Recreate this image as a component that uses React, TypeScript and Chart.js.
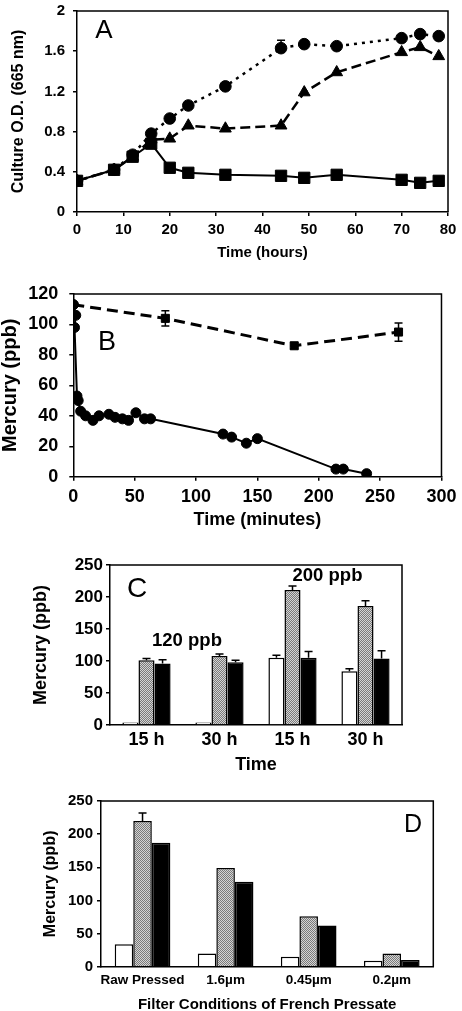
import React, { useEffect, useRef } from 'react';
import { Chart, registerables } from 'chart.js';

Chart.register(...registerables);

const FONT = "'Liberation Sans', Arial, Helvetica, sans-serif";
const BLACK = '#000000';

// ---------- Panel A : culture growth ----------
const hoursA = [0, 8, 12, 16, 20, 24, 32, 44, 49, 56, 70, 74, 78];
const odSquares = [0.31, 0.42, 0.55, 0.68, 0.44, 0.39, 0.37, 0.36, 0.34, 0.37, 0.32, 0.29, 0.31];
const odCircles = [0.31, 0.42, 0.57, 0.78, 0.93, 1.06, 1.25, 1.63, 1.67, 1.65, 1.73, 1.77, 1.75];
const odCirclesErr = [0, 0, 0, 0, 0, 0, 0, 0.08, 0, 0, 0, 0, 0];
const odTriangles = [0.31, 0.42, 0.55, 0.72, 0.73, 0.86, 0.83, 0.86, 1.19, 1.39, 1.59, 1.64, 1.55];

// ---------- Panel B : mercury vs minutes ----------
const minutesCircles = [0, 2, 1, 3, 4, 6, 10, 16, 21, 29, 34, 40, 45, 51, 58, 63, 122, 129, 141, 150, 214, 220, 239];
const hgCircles = [113, 106, 98, 53, 50, 43, 40, 37, 40, 41, 39, 38, 37, 42, 38, 38, 28, 26, 22, 25, 5, 5, 2];
const minutesSquares = [0, 75, 180, 265];
const hgSquares = [113, 104, 86, 95];
const hgSquaresErr = [0, 5, 2, 6];

// ---------- Panel C : bars by time ----------
const cLabels = ['15 h', '30 h', '15 h', '30 h'];
const cWhite = [4, 4, 105, 84];
const cGray = [101, 108, 211, 186];
const cBlack = [96, 98, 105, 104];
const cWhiteErr = [0, 0, 4, 4];
const cGrayErr = [3, 3, 6, 8];
const cBlackErr = [6, 3, 10, 12];

// ---------- Panel D : filter conditions ----------
const dLabels = ['Raw Pressed', '1.6\u00b5m', '0.45\u00b5m', '0.2\u00b5m'];
const dWhite = [34, 20, 15, 9];
const dGray = [220, 149, 76, 20];
const dBlack = [187, 128, 62, 10];
const dGrayErr = [12, 0, 0, 0];

type TextItem = { text: string; x: number; y: number; size: number; bold?: boolean };

const textPlugin = (items: TextItem[], offsetTop: number) => ({
  id: 'texts',
  afterDraw(chart: any) {
    const ctx = chart.ctx;
    ctx.save();
    ctx.fillStyle = BLACK;
    ctx.textAlign = 'center';
    ctx.textBaseline = 'alphabetic';
    items.forEach((t) => {
      ctx.font = `${t.bold ? 'bold ' : ''}${t.size}px ${FONT}`;
      ctx.fillText(t.text, t.x, t.y - offsetTop + 0.358 * t.size);
    });
    ctx.restore();
  },
});

const framePlugin = {
  id: 'frame',
  afterDraw(chart: any) {
    const { left, top, right, bottom } = chart.chartArea;
    const ctx = chart.ctx;
    ctx.save();
    ctx.strokeStyle = BLACK;
    ctx.lineWidth = 1.5;
    ctx.beginPath();
    ctx.moveTo(left, top);
    ctx.lineTo(right, top);
    ctx.lineTo(right, bottom);
    ctx.stroke();
    ctx.restore();
  },
};

type ErrSpec = { ds: number; err: number[]; both?: boolean; cap: number };

const errorPlugin = (specs: ErrSpec[]) => ({
  id: 'errs',
  afterDatasetsDraw(chart: any) {
    const ctx = chart.ctx;
    const ys = chart.scales.y;
    ctx.save();
    ctx.strokeStyle = BLACK;
    ctx.lineWidth = 1.5;
    specs.forEach((s) => {
      const meta = chart.getDatasetMeta(s.ds);
      meta.data.forEach((el: any, i: number) => {
        const e = s.err[i];
        if (!e) return;
        const raw = chart.data.datasets[s.ds].data[i];
        const v = typeof raw === 'number' ? raw : raw.y;
        const x = el.x;
        const yTop = ys.getPixelForValue(v + e);
        const yBot = ys.getPixelForValue(s.both ? v - e : v);
        ctx.beginPath();
        ctx.moveTo(x, yBot);
        ctx.lineTo(x, yTop);
        ctx.moveTo(x - s.cap, yTop);
        ctx.lineTo(x + s.cap, yTop);
        if (s.both) {
          ctx.moveTo(x - s.cap, yBot);
          ctx.lineTo(x + s.cap, yBot);
        }
        ctx.stroke();
      });
    });
    ctx.restore();
  },
});

const bold = (size: number, lineHeight?: number) =>
  lineHeight ? { family: FONT, size, weight: 'bold' as const, lineHeight } : { family: FONT, size, weight: 'bold' as const };

const tickGrid = { display: true, drawOnChartArea: false, drawTicks: true, tickLength: 4, color: BLACK, lineWidth: 1.5 };
const border = { display: true, color: BLACK, width: 1.5 };

function grayPattern(): CanvasPattern | string {
  const c = document.createElement('canvas');
  c.width = 2;
  c.height = 2;
  const g = c.getContext('2d');
  if (!g) return '#a8a8a8';
  g.fillStyle = '#d4d4d4';
  g.fillRect(0, 0, 2, 2);
  g.fillStyle = '#7a7a7a';
  g.fillRect(0, 0, 1, 1);
  g.fillRect(1, 1, 1, 1);
  const ctx = document.createElement('canvas').getContext('2d');
  return (ctx && ctx.createPattern(c, 'repeat')) || '#a8a8a8';
}

const baseOptions = {
  animation: false as const,
  responsive: false,
  events: [] as any[],
  plugins: { legend: { display: false }, tooltip: { enabled: false } },
};

// ---------- configs ----------
const TOP_A = -6;
const TOP_B = 262;
const TOP_C = 535;
const TOP_D = 776;

function configA() {
  const pts = (ys: number[]) => hoursA.map((x, i) => ({ x, y: ys[i] }));
  return {
    type: 'line' as const,
    data: {
      datasets: [
        {
          data: pts(odSquares), borderColor: BLACK, backgroundColor: BLACK, borderWidth: 2,
          pointStyle: 'rect', pointRadius: 8, pointBorderWidth: 1, pointBorderColor: BLACK, pointBackgroundColor: BLACK, tension: 0,
        },
        {
          data: pts(odCircles), borderColor: BLACK, backgroundColor: BLACK, borderWidth: 2.5, borderDash: [3, 5],
          pointStyle: 'circle', pointRadius: 5.8, pointBorderWidth: 1, pointBorderColor: BLACK, pointBackgroundColor: BLACK, tension: 0,
        },
        {
          data: pts(odTriangles), borderColor: BLACK, backgroundColor: BLACK, borderWidth: 2.5, borderDash: [10, 5],
          pointStyle: 'triangle', pointRadius: 6.8, pointBorderWidth: 1, pointBorderColor: BLACK, pointBackgroundColor: BLACK, tension: 0,
        },
      ],
    },
    options: {
      ...baseOptions,
      layout: { padding: { top: 13, left: 11, right: 14, bottom: 0 } },
      scales: {
        x: {
          type: 'linear' as const, min: 0, max: 80,
          ticks: { stepSize: 10, font: bold(15), color: BLACK, padding: 5 },
          grid: tickGrid, border,
          title: { display: true, text: 'Time (hours)', font: bold(15), color: BLACK, padding: 0 },
          afterFit: (s: any) => { s.height = 50; },
        },
        y: {
          type: 'linear' as const, min: 0, max: 2,
          ticks: { stepSize: 0.4, font: bold(15), color: BLACK, padding: 8, callback: (v: any) => String(Math.round(Number(v) * 10) / 10) },
          grid: tickGrid, border,
          title: { display: true, text: 'Culture O.D. (665 nm)', font: bold(16, 1), color: BLACK, padding: 0 },
          afterFit: (s: any) => { s.width = 66; },
        },
      },
    },
    plugins: [
      framePlugin,
      errorPlugin([{ ds: 1, err: odCirclesErr, cap: 4 }]),
      textPlugin([{ text: 'A', x: 104, y: 29, size: 26 }], TOP_A),
    ],
  };
}

function configB() {
  return {
    type: 'line' as const,
    data: {
      datasets: [
        {
          data: minutesCircles.map((x, i) => ({ x, y: hgCircles[i] })), borderColor: BLACK, backgroundColor: BLACK, borderWidth: 2,
          pointStyle: 'circle', pointRadius: 5, pointBorderWidth: 1, pointBorderColor: BLACK, pointBackgroundColor: BLACK, tension: 0,
        },
        {
          data: minutesSquares.map((x, i) => ({ x, y: hgSquares[i] })), borderColor: BLACK, backgroundColor: BLACK, borderWidth: 3, borderDash: [11, 6],
          pointStyle: ['circle', 'rect', 'rect', 'rect'], pointRadius: [5, 5.7, 5.7, 5.7], pointBorderWidth: 1, pointBorderColor: BLACK, pointBackgroundColor: BLACK, tension: 0,
        },
      ],
    },
    options: {
      ...baseOptions,
      layout: { padding: { top: 32, left: 0, right: 16, bottom: 0 } },
      scales: {
        x: {
          type: 'linear' as const, min: 0, max: 300,
          ticks: { stepSize: 50, font: bold(18), color: BLACK, padding: 5.5 },
          grid: tickGrid, border,
          title: { display: true, text: 'Time (minutes)', font: bold(18), color: BLACK, padding: 0 },
          afterFit: (s: any) => { s.height = 54.3; },
        },
        y: {
          type: 'linear' as const, min: 0, max: 120,
          ticks: { stepSize: 20, font: bold(18), color: BLACK, padding: 11 },
          grid: tickGrid, border,
          title: { display: true, text: 'Mercury (ppb)', font: bold(20, 1), color: BLACK, padding: 0 },
          afterFit: (s: any) => { s.width = 73.3; },
        },
      },
    },
    plugins: [
      framePlugin,
      errorPlugin([{ ds: 1, err: hgSquaresErr, both: true, cap: 4 }]),
      textPlugin([{ text: 'B', x: 107, y: 340, size: 27 }], TOP_B),
    ],
  };
}

function barDatasets(white: number[], gray: number[], black: number[], pct: number) {
  const pat = grayPattern();
  const common = { borderColor: BLACK, borderWidth: 1.5, barPercentage: 1, categoryPercentage: pct };
  return [
    { data: white, backgroundColor: '#ffffff', ...common },
    { data: gray, backgroundColor: pat, ...common },
    { data: black, backgroundColor: BLACK, ...common },
  ];
}

function configC() {
  return {
    type: 'bar' as const,
    data: { labels: cLabels, datasets: barDatasets(cWhite, cGray, cBlack, 0.66) },
    options: {
      ...baseOptions,
      layout: { padding: { top: 30, left: 32, right: 60, bottom: 0 } },
      scales: {
        x: {
          type: 'category' as const,
          ticks: { font: bold(18), color: BLACK, padding: 4 },
          grid: { display: false, drawTicks: false }, border,
          title: { display: true, text: 'Time', font: bold(18), color: BLACK, padding: 0 },
          afterFit: (s: any) => { s.height = 51; },
        },
        y: {
          type: 'linear' as const, min: 0, max: 250,
          ticks: { stepSize: 25, font: bold(17), color: BLACK, padding: 3, callback: (v: any) => (Number(v) % 50 === 0 ? String(v) : '') },
          grid: tickGrid, border,
          title: { display: true, text: 'Mercury (ppb)', font: bold(18, 1), color: BLACK, padding: 0 },
          afterFit: (s: any) => { s.width = 78; },
        },
      },
    },
    plugins: [
      framePlugin,
      errorPlugin([
        { ds: 0, err: cWhiteErr, cap: 4 },
        { ds: 1, err: cGrayErr, cap: 4 },
        { ds: 2, err: cBlackErr, cap: 4 },
      ]),
      textPlugin([
        { text: 'C', x: 137, y: 587, size: 28 },
        { text: '120 ppb', x: 187, y: 639.5, size: 18.5, bold: true },
        { text: '200 ppb', x: 327.5, y: 574, size: 18.5, bold: true },
      ], TOP_C),
    ],
  };
}

function configD() {
  return {
    type: 'bar' as const,
    data: { labels: dLabels, datasets: barDatasets(dWhite, dGray, dBlack, 0.67) },
    options: {
      ...baseOptions,
      layout: { padding: { top: 25, left: 42.5, right: 28.7, bottom: 0 } },
      scales: {
        x: {
          type: 'category' as const,
          ticks: { font: bold(13.5), color: BLACK, padding: 5.2, maxRotation: 0, autoSkip: false },
          grid: { display: false, drawTicks: false }, border,
          title: { display: true, text: 'Filter Conditions of French Pressate', font: bold(15), color: BLACK, padding: 0 },
          afterFit: (s: any) => { s.height = 47.3; },
        },
        y: {
          type: 'linear' as const, min: 0, max: 250,
          ticks: { stepSize: 50, font: bold(15), color: BLACK, padding: 4 },
          grid: { ...tickGrid, tickLength: 4 }, border,
          title: { display: true, text: 'Mercury (ppb)', font: bold(16, 1), color: BLACK, padding: 0 },
          afterFit: (s: any) => { s.width = 58.5; },
        },
      },
    },
    plugins: [
      framePlugin,
      errorPlugin([{ ds: 1, err: dGrayErr, cap: 4 }]),
      textPlugin([{ text: 'D', x: 413, y: 823, size: 25 }], TOP_D),
    ],
  };
}

function Panel({ top, height, make }: { top: number; height: number; make: () => any }) {
  const ref = useRef<HTMLCanvasElement>(null);
  useEffect(() => {
    if (!ref.current) return;
    const chart = new Chart(ref.current, make());
    return () => chart.destroy();
  }, []);
  return (
    <canvas
      ref={ref}
      width={462}
      height={height}
      style={{ position: 'absolute', left: 0, top, width: 462, height, display: 'block' }}
    />
  );
}

export default function App() {
  return (
    <div style={{ position: 'absolute', left: 0, top: 0, width: 462, height: 1011, overflow: 'hidden', background: '#fff' }}>
      <Panel top={TOP_A} height={268} make={configA} />
      <Panel top={TOP_B} height={269} make={configB} />
      <Panel top={TOP_C} height={241} make={configC} />
      <Panel top={TOP_D} height={238} make={configD} />
    </div>
  );
}
